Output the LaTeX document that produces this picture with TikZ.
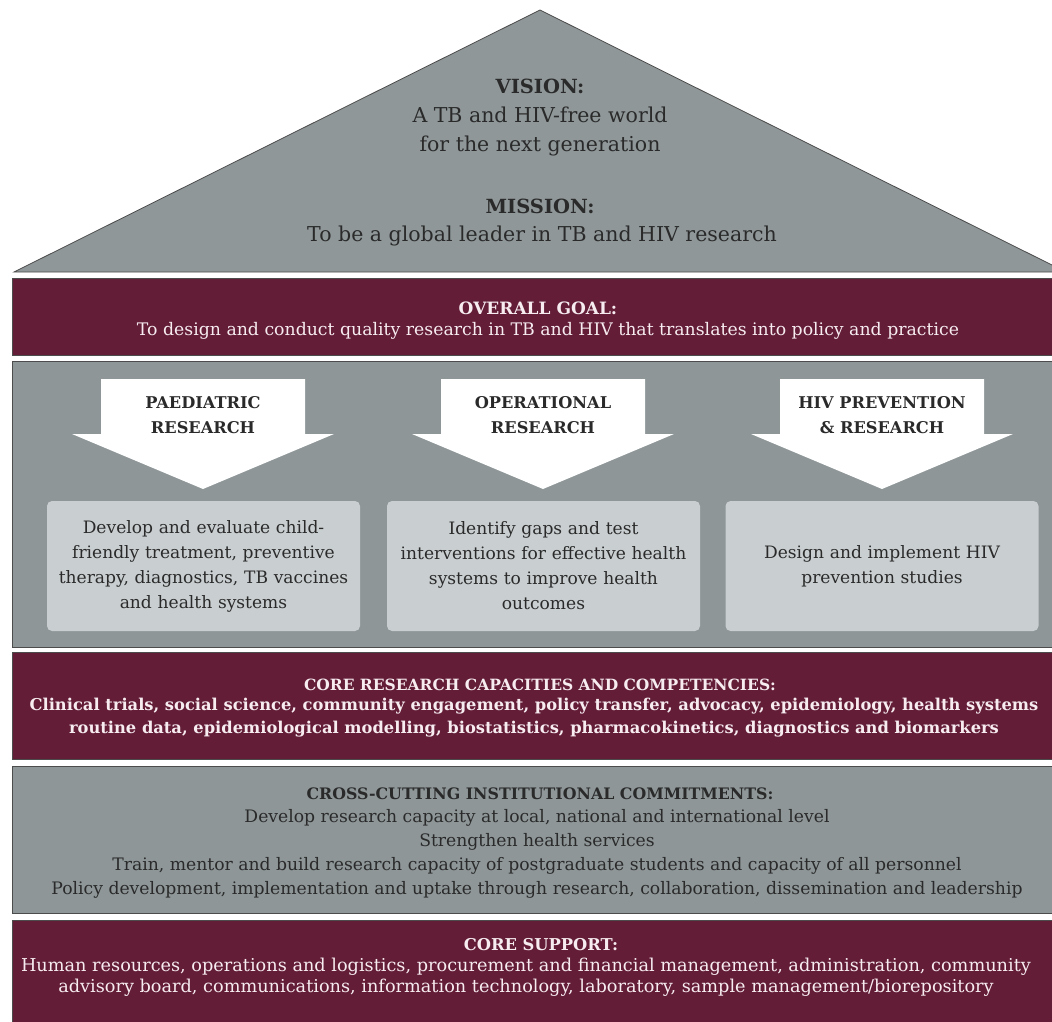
\documentclass[tikz,border=0pt]{standalone}
\usepackage{fontspec}
\setmainfont{DejaVu Serif}
\usetikzlibrary{positioning}
\definecolor{housemaroon}{RGB}{99,29,55}
\definecolor{wallgrey}{RGB}{142,150,152}
\definecolor{roofgrey}{RGB}{143,151,153}
\definecolor{panelgrey}{RGB}{201,206,208}
\definecolor{inkgrey}{RGB}{42,42,42}
\definecolor{paletext}{RGB}{247,236,240}
\begin{document}
\begin{tikzpicture}[x=1pt, y=-1pt,
    band/.style={draw=black!70, line width=0.8pt},
    darktext/.style={text=inkgrey, align=center, font=\fontsize{17.2}{24}\selectfont},
    darkhead/.style={text=inkgrey, align=center, font=\bfseries\fontsize{16.2}{25}\selectfont},
    lighttext/.style={text=paletext, align=center, font=\fontsize{17.3}{22}\selectfont},
    lighthead/.style={text=paletext, align=center, font=\bfseries\fontsize{16.5}{23}\selectfont},
    panel/.style={fill=panelgrey, rounded corners=5pt, minimum width=313pt, minimum height=130pt,
        text width=305pt, align=center, text=inkgrey, font=\fontsize{17.1}{25}\selectfont}]
    \useasboundingbox (0,0) rectangle (1052,1022);
    \clip (0,0) rectangle (1052,1022);
    \fill[white] (0,0) rectangle (1052,1022);
    % roof
    \draw[fill=roofgrey, draw=black!70, line width=0.8pt] (14,272) -- (540,10) -- (1066,272) -- cycle;
    \node[darkhead, font=\bfseries\fontsize{19.5}{29}\selectfont] (vision) at (540,86) {VISION:};
    \node[darktext, font=\fontsize{20.5}{29}\selectfont] (visiontxt) at (540,131) {A TB and HIV-free world\\for the next generation};
    \node[darkhead, font=\bfseries\fontsize{19.5}{29}\selectfont] (mission) at (540,206) {MISSION:};
    \node[darktext, font=\fontsize{20.5}{29}\selectfont] (missiontxt) at (542,236) {To be a global leader in TB and HIV research};
    % bands of the house
    \fill[housemaroon, band] (12,278) rectangle (1060,355);
    \fill[wallgrey, band] (12,361) rectangle (1060,647);
    \fill[housemaroon, band] (12,652) rectangle (1060,759);
    \fill[wallgrey, band] (12,766) rectangle (1060,913);
    \fill[housemaroon, band] (12,920) rectangle (1060,1030);
    % overall goal
    \node[lighthead, font=\bfseries\fontsize{17}{23}\selectfont] (goal) at (538,308) {OVERALL GOAL:};
    \node[lighttext] (goaltxt) at (548,331) {To design and conduct quality research in TB and HIV that translates into policy and practice};
    % three research arrows
    \foreach \cx in {203,543,882}
        \fill[white] (\cx-102,379) -- (\cx+102,379) -- (\cx+102,434) -- (\cx+131,434)
            -- (\cx,489) -- (\cx-131,434) -- (\cx-102,434) -- cycle;
    \node[darkhead] (paed) at (203,415) {PAEDIATRIC\\RESEARCH};
    \node[darkhead] (oper) at (543,415) {OPERATIONAL\\RESEARCH};
    \node[darkhead] (hivprev) at (882,415) {HIV PREVENTION\\\& RESEARCH};
    \node[panel] (paedbox) at (203.5,566) {Develop and evaluate child-\\friendly treatment, preventive\\therapy, diagnostics, TB vaccines\\and health systems};
    \node[panel] (operbox) at (543.5,566) {Identify gaps and test\\interventions for effective health\\systems to improve health\\outcomes};
    \node[panel] (hivbox) at (882,566) {Design and implement HIV\\prevention studies};
    % core research capacities
    \node[lighthead, font=\bfseries\fontsize{15.5}{23}\selectfont] (core) at (540,685) {CORE RESEARCH CAPACITIES AND COMPETENCIES:};
    \node[lighthead, font=\bfseries\fontsize{16.3}{23}\selectfont] (coretxt) at (534,718) {Clinical trials, social science, community engagement, policy transfer, advocacy, epidemiology, health systems\\routine data, epidemiological modelling, biostatistics, pharmacokinetics, diagnostics and biomarkers};
    % cross-cutting commitments
    \node[darkhead, font=\bfseries\fontsize{15.8}{24}\selectfont] (cross) at (540,794) {CROSS-CUTTING INSTITUTIONAL COMMITMENTS:};
    \node[darktext] (crosstxt) at (537,854) {Develop research capacity at local, national and international level\\Strengthen health services\\Train, mentor and build research capacity of postgraduate students and capacity of all personnel\\Policy development, implementation and uptake through research, collaboration, dissemination and leadership};
    % core support
    \node[lighthead, font=\bfseries\fontsize{16.3}{23}\selectfont] (support) at (541,945) {CORE SUPPORT:};
    \node[lighttext, font=\fontsize{17.7}{21}\selectfont] (supporttxt) at (526,977) {Human resources, operations and logistics, procurement and financial management, administration, community\\advisory board, communications, information technology, laboratory, sample management/biorepository};
\end{tikzpicture}
\end{document}
